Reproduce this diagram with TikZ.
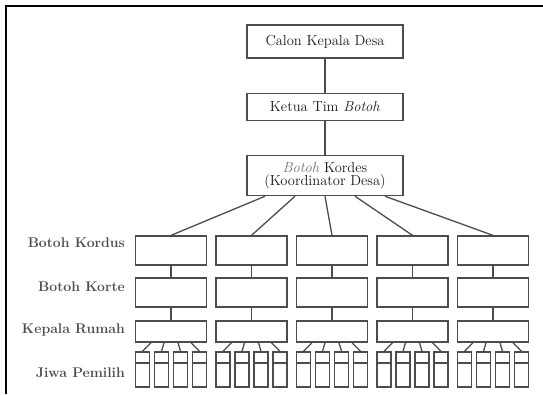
\documentclass[tikz,border=0pt]{standalone}
\usepackage{xcolor}
\usepackage{tikz}
\usetikzlibrary{positioning}

\begin{document}
\begin{tikzpicture}[
  x=1pt, y=-1pt,
  node distance = 34pt,
  topbox/.style   = {rectangle, draw=black!70, line width=1.3pt, fill=white,
                     minimum width=156pt, inner sep=0pt, align=center,
                     text=black!90, font=\fontsize{14.5}{13.5}\selectfont},
  unitbox/.style  = {rectangle, draw=black!70, line width=1.3pt,
                     minimum width=71pt, minimum height=29pt, inner sep=0pt},
  housebox/.style = {unitbox, minimum height=21pt},
  voter/.style    = {rectangle, draw=black!70, line width=1.3pt,
                     minimum width=14pt, minimum height=35pt, inner sep=0pt,
                     path picture={\draw[black!70, line width=1.3pt]
                       ([yshift=-11pt]path picture bounding box.north west) --
                       ([yshift=-11pt]path picture bounding box.north east);}},
  rowlabel/.style = {anchor=east, inner sep=0pt, text=black!70,
                     font=\fontsize{14}{16}\selectfont\bfseries},
  link/.style     = {draw=black!70, line width=1.3pt},
]
\useasboundingbox (0,0) rectangle (543,394);

%% ── Frame ─────────────────────────────────────────────────────────
\draw[line width=1.8pt] (6,394) -- (6,6) -- (543,6);

%% ── Top chain ─────────────────────────────────────────────────────
\node[topbox, minimum height=33pt] (calon) at (325,41.5) {Calon Kepala Desa};
\node[topbox, minimum height=27pt, below=of calon] (ketua)
    {Ketua Tim \textit{Botoh}};
\node[topbox, minimum height=40pt, below=of ketua] (kordes)
    {{\color{black!55}\textit{Botoh}} Kordes\\(Koordinator Desa)};

%% ── Columns ───────────────────────────────────────────────────────
\foreach \c/\cx in {1/171, 2/251.5, 3/332, 4/412.5, 5/493} {
  \node[unitbox]  (kordus-\c) at (\cx,250.5) {};
  \node[unitbox]  (korte-\c)  at (\cx,292.5) {};
  \node[housebox] (rumah-\c)  at (\cx,331.5) {};
  \foreach \j/\dx in {1/-28.5, 2/-9.5, 3/9.5, 4/28.5}
    \node[voter] (jiwa-\c-\j) at ({\cx+(\dx)},369.5) {};
}

%% ── Row labels ────────────────────────────────────────────────────
\node[rowlabel] (lbl-kordus) at (125,243) {Botoh Kordus};
\node[rowlabel] (lbl-korte)  at (125,287) {Botoh Korte};
\node[rowlabel] (lbl-rumah)  at (125,330) {Kepala Rumah};
\node[rowlabel] (lbl-jiwa)   at (125,373) {Jiwa Pemilih};

%% ── Lines ─────────────────────────────────────────────────────────
\draw[link] (calon) -- (ketua);
\draw[link] (ketua) -- (kordes);
\foreach \c/\dx in {1/-60pt, 2/-30pt, 3/0pt, 4/30pt, 5/60pt}
  \draw[link] ([xshift=\dx]kordes.south) -- (kordus-\c.north);
\foreach \c in {1,...,5} {
  \draw[link] (kordus-\c) -- (korte-\c);
  \draw[link] (korte-\c)  -- (rumah-\c);
  \foreach \j/\dx in {1/-20pt, 2/-7pt, 3/7pt, 4/20pt}
    \draw[link] ([xshift=\dx]rumah-\c.south) -- (jiwa-\c-\j.north);
}

\end{tikzpicture}
\end{document}
